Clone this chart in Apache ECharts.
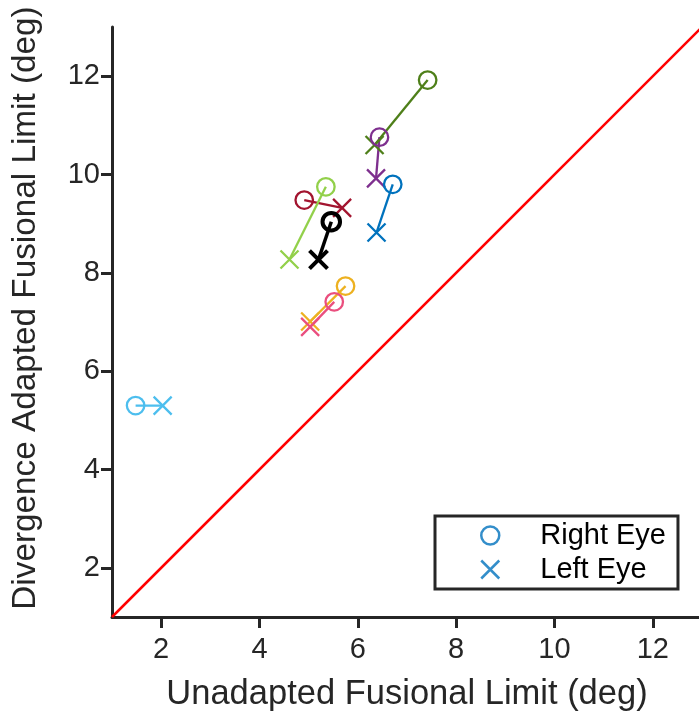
<!DOCTYPE html>
<html>
<head>
<meta charset="utf-8">
<script src="https://cdn.jsdelivr.net/npm/echarts@6/dist/echarts.min.js"></script>
<style>html,body{margin:0;padding:0;background:#fff;}#c{width:699px;height:713px;}</style>
</head>
<body>
<div id="c"></div>
<script>
// Subjects: right eye (circle) and left eye (cross) coordinates [unadapted, divergence adapted]
const subjectColors = ['#4E7F19', '#7E2F8E', '#0072BD', '#A2142F', '#92D04A', '#000000', '#EDB120', '#EA4F7E', '#4DBEEE'];
const rightEyeX = [7.42, 6.44, 6.71, 4.91, 5.35, 5.46, 5.75, 5.52, 1.48];
const rightEyeY = [11.92, 10.76, 9.80, 9.48, 9.75, 9.04, 7.73, 7.41, 5.30];
const leftEyeX  = [6.34, 6.37, 6.38, 5.68, 4.61, 5.20, 5.03, 5.03, 2.03];
const leftEyeY  = [10.60, 9.92, 8.82, 9.32, 8.27, 8.27, 7.01, 6.90, 5.30];
const tickValues = [2, 4, 6, 8, 10, 12];
const unityLine = [[1, 1], [13, 13]];
const legendNames = ['Right Eye', 'Left Eye'];

const FONT = "'Liberation Sans', Arial, Helvetica, sans-serif";
const TXT = '#262626';
const crossPath = 'path://M0,0L10,10M10,0L0,10';

const series = [];
series.push({
  type: 'line', data: unityLine, symbol: 'none', silent: true,
  lineStyle: { color: '#FF0000', width: 2.5 }, z: 1
});
for (let i = 0; i < subjectColors.length; i++) {
  const c = subjectColors[i];
  const bold = c === '#000000';
  series.push({
    type: 'line',
    data: [
      { value: [rightEyeX[i], rightEyeY[i]], symbol: 'circle', symbolSize: 17.5 },
      { value: [leftEyeX[i], leftEyeY[i]], symbol: crossPath, symbolSize: 18 }
    ],
    showAllSymbol: true,
    lineStyle: { color: c, width: bold ? 3.5 : 2.3 },
    itemStyle: { color: 'rgba(0,0,0,0)', borderColor: c, borderWidth: bold ? 4 : 2.3 },
    emphasis: { disabled: true },
    z: 3
  });
}
series.push({ type: 'scatter', name: legendNames[0], data: [] });
series.push({ type: 'scatter', name: legendNames[1], data: [] });

const axisCommon = {
  type: 'value', min: 1, max: 13,
  axisLine: { show: true, onZero: false, lineStyle: { color: TXT, width: 3 } },
  axisTick: { show: true, inside: false, length: 11, customValues: tickValues, lineStyle: { color: TXT, width: 3 } },
  axisLabel: { customValues: tickValues, color: TXT, fontSize: 29, fontFamily: FONT },
  splitLine: { show: false },
  nameLocation: 'middle',
  nameTextStyle: { color: TXT, fontSize: 34.5, fontFamily: FONT }
};

const option = {
  animation: false,
  backgroundColor: '#fff',
  grid: { left: 112, top: 27, right: -3, bottom: 96, containLabel: false, outerBoundsMode: 'none' },
  xAxis: Object.assign({}, axisCommon, {
    name: 'Unadapted Fusional Limit (deg)', nameGap: 60,
    axisLabel: Object.assign({}, axisCommon.axisLabel, { margin: 18 })
  }),
  yAxis: Object.assign({}, axisCommon, {
    name: 'Divergence Adapted Fusional Limit (deg)', nameGap: 70,
    nameTextStyle: Object.assign({}, axisCommon.nameTextStyle, { fontSize: 33.3, padding: [0, 0, 0, 28] }),
    axisLabel: Object.assign({}, axisCommon.axisLabel, { margin: 12 })
  }),
  legend: {
    orient: 'vertical', left: 435, top: 516,
    backgroundColor: '#fff', borderColor: TXT, borderWidth: 3, borderRadius: 0,
    padding: [5, 12, 5, 45],
    itemWidth: 18, itemHeight: 18, itemGap: 5,
    selectedMode: false,
    textStyle: { color: '#000', fontSize: 29, fontFamily: FONT, lineHeight: 28, padding: [0, 0, 0, 36] },
    data: [
      { name: legendNames[0], icon: 'circle', itemStyle: { color: 'rgba(0,0,0,0)', borderColor: '#0072BD', borderWidth: 2.5 } },
      { name: legendNames[1], icon: crossPath, itemStyle: { color: 'rgba(0,0,0,0)', borderColor: '#0072BD', borderWidth: 2.5 } }
    ]
  },
  series: series
};

const chart = echarts.init(document.getElementById('c'), null, { renderer: 'canvas' });
chart.setOption(option);
</script>
</body>
</html>
